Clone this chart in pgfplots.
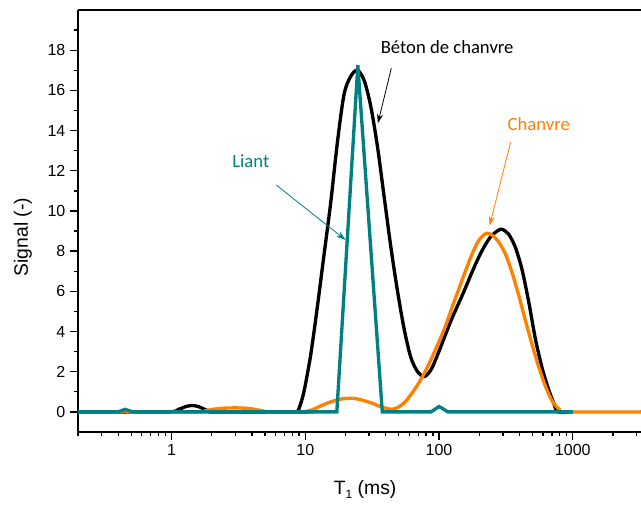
\documentclass[border=0pt]{standalone}
\usepackage{pgfplots}
\pgfplotsset{compat=1.18}
\usepackage{fontspec}
\setmainfont{Liberation Sans}
\newfontfamily\calibri{Carlito}
\usetikzlibrary{arrows.meta}
\definecolor{cOrange}{RGB}{255,128,0}
\definecolor{cTeal}{RGB}{0,128,128}
\begin{document}
\begin{tikzpicture}
\begin{axis}[
  at={(0,0)}, anchor=south west,
  scale only axis, width=422.25pt, height=316.5pt,
  xmode=log, xmin=0.2, xmax=3236, ymin=-1, ymax=20,
  axis y line*=left,
  xtick pos=bottom, ytick pos=left,
  tick align=outside,
  axis line style={line width=1.5pt},
  major tick length=6pt, minor tick length=3pt,
  every tick/.style={black, line width=1pt},
  xtick={1,10,100,1000}, xticklabels={1,10,100,1000},
  minor xtick={0.2,0.3,0.4,0.5,0.6,0.7,0.8,0.9,2,3,4,5,6,7,8,9,20,30,40,50,60,70,80,90,200,300,400,500,600,700,800,900,2000,3000},
  ytick={0,2,...,18}, minor ytick={1,3,...,19},
  /pgf/number format/assume math mode=true,
  tick label style={font=\fontsize{12}{14}\selectfont},
  xlabel={T\raisebox{-0.45ex}{\fontsize{9}{10}\selectfont 1} (ms)},
  ylabel={Signal (-)},
  label style={font=\fontsize{14.5}{17}\selectfont},
  xlabel style={at={(axis description cs:0.51,-0.147)}, anchor=base},
  ylabel style={at={(axis description cs:-0.098,0.462)}, anchor=center},
]
% Beton de chanvre
\addplot[black, line width=2.5pt, smooth, tension=0.5] coordinates {
(0.2,0) (0.912,0) (1.122,0.12) (1.259,0.25) (1.413,0.32) (1.585,0.27) (1.778,0.12) (1.950,0.02) (2.089,0)
(7.943,0) (8.710,0) (9.120,0.3) (9.772,1.0) (10.96,2.8) (12.30,5.2) (13.80,7.8) (15.49,10.4) (17.38,13.4) (19.50,15.8) (21.88,16.7) (24.55,17.0)
(27.54,16.5) (30.90,15.2) (34.67,13.2) (38.90,10.7) (43.65,8.2) (48.98,6.0) (54.95,4.1) (61.66,2.7) (69.18,2.0) (77.62,1.76)
(87.10,2.1) (97.72,2.85) (109.6,3.7) (123.0,4.55) (138.0,5.3) (154.9,6.05) (173.8,6.85) (195.0,7.6) (218.8,8.25) (245.5,8.75) (275.4,9.02) (295.1,9.09)
(331.1,8.85) (371.5,8.2) (416.9,7.1) (467.7,5.5) (524.8,3.65) (588.8,2.2) (660.7,1.1) (724.4,0.4) (776.2,0) (1000,0)
};
% Chanvre
\addplot[cOrange, line width=2.5pt, smooth, tension=0.5] coordinates {
(0.2,0) (0.398,0) (0.45,0.07) (0.513,0) (1.585,0) (1.778,0.05) (1.995,0.12) (2.399,0.18) (3.020,0.2) (3.802,0.17) (4.571,0.08) (5.495,0)
(8.913,0) (10,0.02) (11.22,0.1) (12.59,0.25) (14.13,0.4) (15.85,0.52) (17.78,0.62) (19.95,0.67) (22.39,0.68) (25.12,0.63) (28.18,0.54) (31.62,0.43) (35.48,0.3) (39.81,0.19) (44.67,0.13)
(50.12,0.25) (56.23,0.52) (63.10,0.95) (70.79,1.45) (79.43,2.05) (89.13,2.75) (100,3.5) (112.2,4.3) (125.9,5.25) (141.3,6.15) (158.5,7.05) (177.8,7.9) (199.5,8.55) (225.9,8.89)
(251.2,8.78) (281.8,8.42) (316.2,7.8) (354.8,6.85) (398.1,5.7) (446.7,4.45) (501.2,3.25) (562.3,2.15) (631.0,1.2) (707.9,0.5) (794.3,0.13) (891.3,0) (3236,0)
};
% Liant
\addplot[cTeal, line width=2.5pt] coordinates {
(0.2,0) (0.398,0) (0.45,0.13) (0.513,0) (17.22,0) (24.72,17.25) (37.67,0) (87.1,0) (100,0.27) (116.7,0) (1000,0)
};
% annotations
\node[font=\calibri\fontsize{14}{16}\selectfont, anchor=base] at (axis cs:115,17.85) {Béton de chanvre};
\draw[black, line width=0.6pt, -{Stealth[length=7pt,width=4.5pt]}] (axis cs:44.0,17.1) -- (axis cs:34.9,14.36);
\node[font=\calibri\fontsize{14}{16}\selectfont, anchor=base, text=cTeal] at (axis cs:3.92,12.14) {Liant};
\draw[cTeal, line width=0.6pt, -{Stealth[length=7pt,width=4.5pt]}] (axis cs:6.07,11.29) -- (axis cs:20.0,8.56);
\node[font=\calibri\fontsize{14}{16}\selectfont, anchor=base, text=cOrange] at (axis cs:557,13.98) {Chanvre};
\draw[cOrange, line width=0.6pt, -{Stealth[length=7pt,width=4.5pt]}] (axis cs:343,13.42) -- (axis cs:239,9.27);
\end{axis}
\pgfresetboundingbox
\path[use as bounding box] (-58.5pt,-54pt) rectangle (422.25pt,324pt);
\end{tikzpicture}
\end{document}
